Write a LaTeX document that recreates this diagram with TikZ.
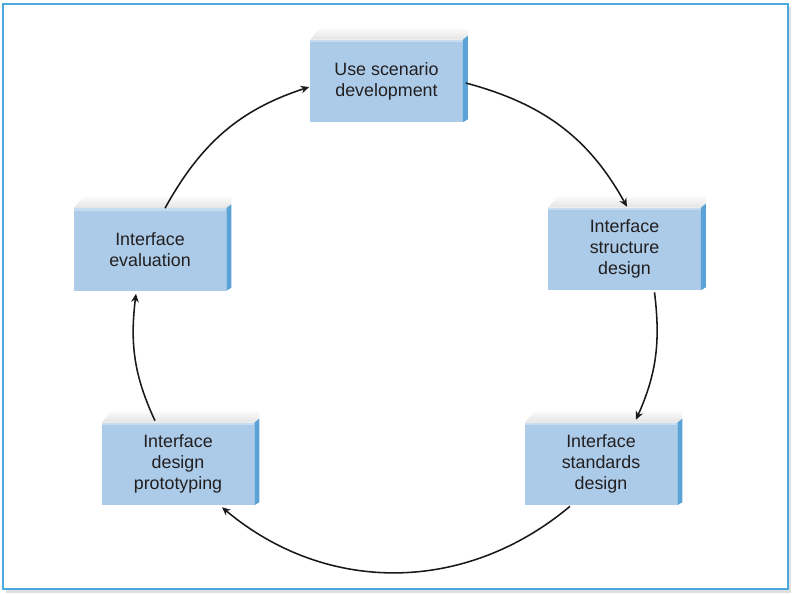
\documentclass[tikz,border=0pt]{standalone}
\usepackage{fontspec}
\setmainfont{Liberation Sans}
\usetikzlibrary{arrows.meta,calc}
\definecolor{cyclefront}{HTML}{ABCBE8}
\definecolor{cycleedge}{HTML}{C6DCF1}
\definecolor{cycleside}{HTML}{5BA3D7}
\definecolor{cycleframe}{HTML}{4CA9DF}
\definecolor{cycletext}{HTML}{231F20}
\tikzset{
  stage/.style={fill=cyclefront, minimum width=3.8cm, minimum height=2.05cm,
    align=center, inner sep=0pt, text=cycletext,
    font=\fontsize{12.7}{14.9}\selectfont},
  stageside/.style={fill=cycleside},
  stagetop/.style={top color=black!2, middle color=black!24, bottom color=black!11},
  loopflow/.style={-{Stealth[length=2.1mm,width=1.9mm]}, line width=1.1pt, draw=black!90},
}

\begin{document}
\begin{tikzpicture}[x=0.025cm, y=0.025cm]
  \useasboundingbox (0,0) rectangle (792,-594);
  % frame with its shadow
  \fill[black!12] (6,-7) rectangle (791,-593);
  \fill[white] (3,-4) rectangle (788,-589);
  \draw[cycleframe, line width=1.4pt] (3,-4) rectangle (788,-589);

  \node[stage] (use) at (386.5,-81) {Use scenario\\development};
  \node[stage] (struct) at (624.5,-249) {Interface\\structure\\design};
  \node[stage] (std) at (601,-464) {Interface\\standards\\design};
  \node[stage] (proto) at (178,-464) {Interface\\design\\prototyping};
  \node[stage] (eval) at (150,-249.5) {Interface\\evaluation};

  % top and side faces
  \foreach \n in {use,struct,std,proto,eval}{
    \shade[stagetop] (\n.north west) -- ++(9,11) -- ($(\n.north east)+(5,11)$)
      -- ($(\n.north east)+(5,4)$) -- (\n.north east) -- cycle;
    \fill[cycleedge] (\n.north west) rectangle ($(\n.north east)+(0,-2.5)$);
    \fill[stageside] (\n.north east) -- ($(\n.north east)+(5,4)$)
      -- ($(\n.south east)+(5,3)$) -- (\n.south east) -- cycle;
  }

  \draw[loopflow] ($(eval.north)+(15,0)$) to[out=61, in=198] ($(use.west)+(-1,-6)$);
  \draw[loopflow] ($(use.east)+(3,-2)$) to[out=-15, in=119] ($(struct.north)+(2.5,1)$);
  \draw[loopflow] ($(struct.south)+(30,-2)$) to[out=-83, in=66] ($(std.north)+(35,3)$);
  \draw[loopflow] ($(std.south)+(-31,-1)$) to[out=220, in=-40] ($(proto.south)+(44,-2)$);
  \draw[loopflow] ($(proto.north)+(-23,2)$) to[out=115, in=-97] ($(eval.south)+(-14,-3)$);
\end{tikzpicture}
\end{document}
